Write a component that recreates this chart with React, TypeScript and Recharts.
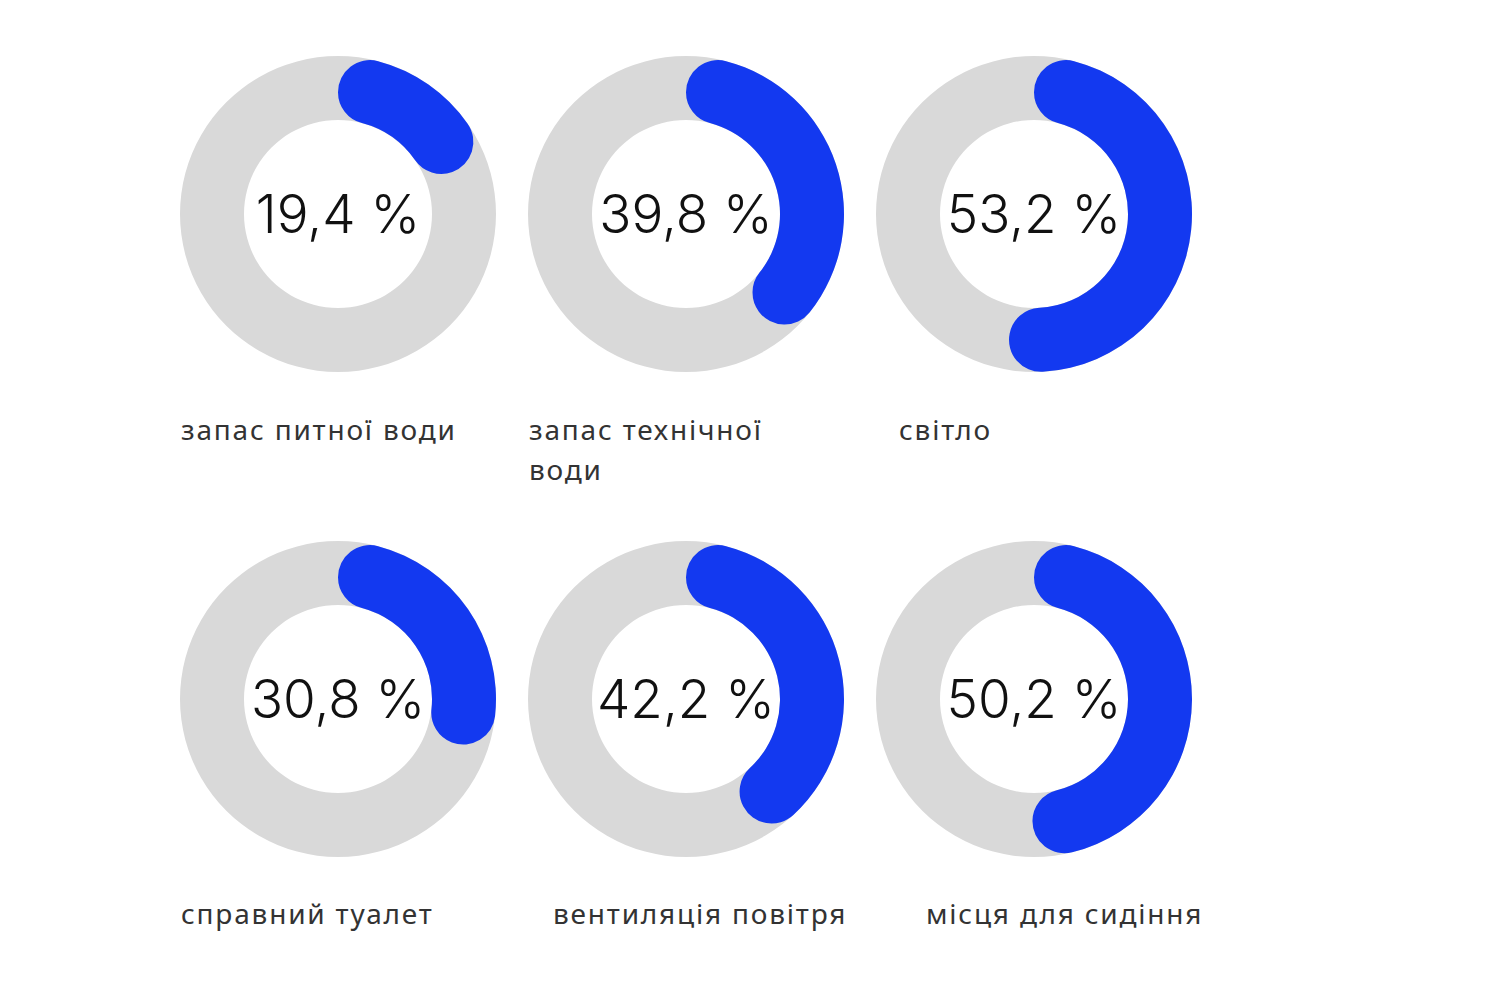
import React from 'react';
import { PieChart, Pie, Cell, Label } from 'recharts';

const categories = [
  'запас питної води',
  'запас технічної води',
  'світло',
  'справний туалет',
  'вентиляція повітря',
  'місця для сидіння',
];
const shares = [19.4, 39.8, 53.2, 30.8, 42.2, 50.2];
const valueLabels = ['19,4 %', '39,8 %', '53,2 %', '30,8 %', '42,2 %', '50,2 %'];

// layout only: donut centres and where each caption starts
const centers = [
  [338, 214], [686, 214], [1034, 214],
  [338, 699], [686, 699], [1034, 699],
];
const captionPos = [
  [181, 409], [529, 409], [899, 409],
  [181, 893], [553, 893], [926, 893],
];

const BLUE = '#1339f0';
const GREY = '#d9d9d9';
const SIZE = 330;
const OUTER = 158;
const INNER = 94;

function Donut({ i }: { i: number }) {
  const v = shares[i];
  const data = [
    { name: 'value', value: v },
    { name: 'rest', value: 100 - v },
  ];
  const [cx, cy] = centers[i];
  return (
    <div style={{ position: 'absolute', left: cx - SIZE / 2, top: cy - SIZE / 2 }}>
      <PieChart width={SIZE} height={SIZE}>
        <Pie
          data={[{ value: 1 }]}
          dataKey="value"
          cx="50%"
          cy="50%"
          innerRadius={INNER}
          outerRadius={OUTER}
          startAngle={90}
          endAngle={-270}
          fill={GREY}
          stroke="none"
          isAnimationActive={false}
        />
        <Pie
          data={data}
          dataKey="value"
          cx="50%"
          cy="50%"
          innerRadius={INNER}
          outerRadius={OUTER}
          startAngle={90}
          endAngle={-270}
          cornerRadius={32}
          stroke="none"
          isAnimationActive={false}
        >
          <Cell fill={BLUE} />
          <Cell fill="transparent" />
          <Label
            value={valueLabels[i]}
            position="center"
            fill="#111"
            style={{ fontFamily: 'Inter, sans-serif', fontWeight: 300, fontSize: 53 }}
          />
        </Pie>
      </PieChart>
    </div>
  );
}

export default function App() {
  return (
    <div style={{ position: 'absolute', left: 0, top: 0, width: 1510, height: 982, background: '#fff' }}>
      {shares.map((_, i) => <Donut key={i} i={i} />)}
      {categories.map((c, i) => (
        <div
          key={c}
          style={{
            position: 'absolute',
            left: captionPos[i][0],
            top: captionPos[i][1],
            width: i === 1 ? 260 : 360,
            fontFamily: '"Noto Sans", sans-serif',
            fontSize: 28,
            lineHeight: '40px',
            color: '#333',
            letterSpacing: 1.8,
            whiteSpace: i === 1 ? 'normal' : 'nowrap',
          }}
        >
          {c}
        </div>
      ))}
    </div>
  );
}
